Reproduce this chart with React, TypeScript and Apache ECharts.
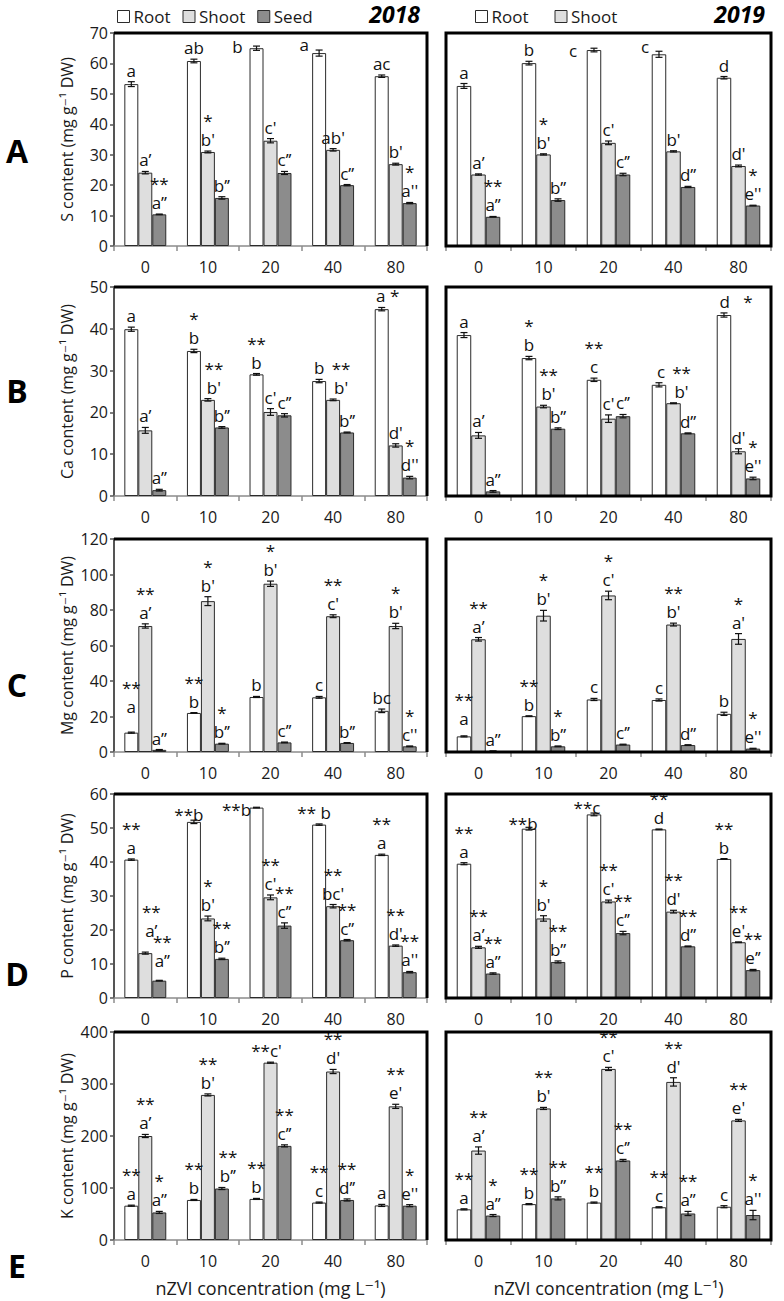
import React, { useEffect, useRef } from 'react';
import * as echarts from 'echarts';

const FONT = "'Open Sans', 'DejaVu Sans', sans-serif";
const CATEGORIES = ['0', '10', '20', '40', '80'];
const SERIES_NAMES = ['Root', 'Shoot', 'Seed'];
const Y_NAMES = ['S content (mg g⁻¹ DW)', 'Ca content (mg g⁻¹ DW)', 'Mg content (mg g⁻¹ DW)', 'P content (mg g⁻¹ DW)', 'K content (mg g⁻¹ DW)'];
const Y_MAX = [70, 50, 120, 60, 400];
const Y_STEP = [10, 10, 20, 10, 100];
const PANEL_LETTERS = ['A', 'B', 'C', 'D', 'E'];
const YEARS = ['2018', '2019'];

// ---- A: S content ----
const S18_ROOT = [53.2, 60.8, 65.0, 63.4, 55.8];
const S18_SHOOT = [24.1, 30.9, 34.6, 31.6, 26.9];
const S18_SEED = [10.4, 15.8, 24.0, 20.0, 14.1];
const S18_ERR = [[0.8, 0.6, 0.7, 1.0, 0.4], [0.4, 0.3, 0.7, 0.4, 0.3], [0.1, 0.4, 0.5, 0.2, 0.2]];
const S18_LBL = [['a', 'ab', 'b', 'a', 'ac'], ['a’', "*\nb'", "c'", "ab'", "b'"], ['**\na’’', 'b’’', 'c’’', 'c’’', "*\na''"]];
const S19_ROOT = [52.6, 60.1, 64.4, 63.0, 55.3];
const S19_SHOOT = [23.5, 30.1, 33.9, 31.1, 26.3];
const S19_SEED = [9.6, 15.1, 23.5, 19.4, 13.3];
const S19_ERR = [[0.8, 0.6, 0.6, 1.0, 0.4], [0.2, 0.2, 0.6, 0.2, 0.3], [0.1, 0.4, 0.4, 0.2, 0.1]];
const S19_LBL = [['a', 'b', 'c', 'c', 'd'], ['a’', "*\nb'", "c'", "b'", "d'"], ['**\na’’', 'b’’', 'c’’', 'd’’', "*\ne''"]];

// ---- B: Ca content ----
const CA18_ROOT = [39.9, 34.7, 29.1, 27.5, 44.7];
const CA18_SHOOT = [15.7, 23.0, 20.1, 23.0, 12.1];
const CA18_SEED = [1.4, 16.4, 19.3, 15.2, 4.4];
const CA18_ERR = [[0.5, 0.4, 0.2, 0.4, 0.4], [0.7, 0.3, 0.8, 0.2, 0.4], [0.2, 0.2, 0.4, 0.1, 0.3]];
const CA18_LBL = [['a', '*\nb', '**\nb', 'b', 'a *'], ['a’', "**\nb'", "c'", "**\nb'", "d'"], ['a’’', 'b’’', 'c’’', 'b’’', "*\nd''"]];
const CA19_ROOT = [38.5, 33.0, 27.8, 26.6, 43.3];
const CA19_SHOOT = [14.5, 21.4, 18.5, 22.2, 10.7];
const CA19_SEED = [1.1, 16.1, 19.1, 15.0, 4.2];
const CA19_ERR = [[0.6, 0.4, 0.4, 0.5, 0.5], [0.7, 0.3, 0.9, 0.1, 0.6], [0.2, 0.2, 0.4, 0.1, 0.3]];
const CA19_LBL = [['a', '*\nb', '**\nc', 'c', 'd   *'], ['a’', "**\nb'", "c'", "**\nb'", "d'"], ['a’’', 'b’’', 'c’’', 'd’’', "*\ne''"]];

// ---- C: Mg content ----
const MG18_ROOT = [10.9, 22.0, 31.0, 30.8, 23.2];
const MG18_SHOOT = [71.0, 85.0, 94.8, 76.5, 71.0];
const MG18_SEED = [1.2, 4.7, 5.4, 5.1, 3.2];
const MG18_ERR = [[0.3, 0.2, 0.3, 0.5, 1.0], [1.2, 2.5, 1.5, 0.8, 1.5], [0.2, 0.2, 0.2, 0.2, 0.2]];
const MG18_LBL = [['**\na', '**\nb', 'b', 'c', 'bc'], ['**\na’', "*\nb'", "*\nb'", "**\nc'", "*\nb'"], ['a’’', '*\nb’’', 'c’’', 'b’’', "*\nc''"]];
const MG19_ROOT = [8.8, 20.2, 29.6, 29.3, 21.5];
const MG19_SHOOT = [63.5, 76.8, 88.2, 71.8, 63.7];
const MG19_SEED = [0.5, 3.2, 4.2, 3.9, 1.9];
const MG19_ERR = [[0.3, 0.2, 0.6, 0.6, 0.9], [1.0, 3.0, 2.4, 0.8, 3.0], [0.1, 0.2, 0.2, 0.2, 0.2]];
const MG19_LBL = [['**\na', '**\nb', 'c', 'c', 'b'], ['**\na’', "*\nb'", "*\nc'", "**\nb'", "*\na'"], ['a’’', '*\nb’’', 'c’’', 'd’’', "*\ne''"]];

// ---- D: P content ----
const P18_ROOT = [40.7, 51.8, 56.0, 51.0, 42.1];
const P18_SHOOT = [13.2, 23.4, 29.6, 27.0, 15.4];
const P18_SEED = [5.1, 11.5, 21.3, 17.0, 7.6];
const P18_ERR = [[0.2, 0.5, 0.1, 0.2, 0.2], [0.3, 0.7, 0.7, 0.5, 0.2], [0.1, 0.2, 0.8, 0.2, 0.2]];
const P18_LBL = [['**\na', '**b', '**b', '** b', '**\na'], ['**\na’', "*\nb'", "**\nc'", "**\nbc'", "**\nd'"], ['**\na’’', '**\nb’’', '**\nc’’', '**\nc’’', "**\na''"]];
const P19_ROOT = [39.5, 49.8, 54.0, 49.6, 40.9];
const P19_SHOOT = [14.9, 23.4, 28.4, 25.4, 16.4];
const P19_SEED = [7.2, 10.6, 19.1, 15.2, 8.2];
const P19_ERR = [[0.3, 0.4, 0.4, 0.1, 0.1], [0.3, 0.8, 0.4, 0.4, 0.1], [0.2, 0.3, 0.5, 0.1, 0.2]];
const P19_LBL = [['**\na', '**b', '**c', '**\nd', '**\nb'], ['**\na’', "*\nb'", "**\nc'", "**\nd'", "**\ne'"], ['**\na’’', '**\nb’’', '**\nc’’', '**\nd’’', '**\ne’’']];

// ---- E: K content ----
const K18_ROOT = [66, 77, 79, 72, 66.5];
const K18_SHOOT = [200, 279, 341, 324, 257];
const K18_SEED = [53, 99, 181, 77, 66];
const K18_ERR = [[1, 1, 1, 1, 2], [3, 2, 1, 4, 4], [2, 2, 2, 2, 2]];
const K18_LBL = [['**\na', '**\nb', '**\nb', '**\nc', 'a'], ['**\na’', "**\nb'", "**c'", "**\nd'", "**\ne'"], ['*\na’’', '**\nb’’', '**\nc’’', '**\nd’’', "*\ne''"]];
const K19_ROOT = [59, 69, 72, 63, 64];
const K19_SHOOT = [172, 253, 329, 304, 230];
const K19_SEED = [47, 80, 153, 51, 48];
const K19_ERR = [[1, 1, 1, 1, 2], [7, 2, 3, 8, 2], [2, 3, 2, 4, 9]];
const K19_LBL = [['**\na', '**\nb', '**\nb', '**\nc', 'c'], ['**\na’', "**\nb'", "**\nc'", "**\nd'", "**\ne'"], ['*\na’’', '**\nb’’', '**\nc’’', '**\na’’', "*\na''"]];

// label nudges: [series, category, dx, dy] (layout only)
const SHIFTS: Record<string, number[][]> = {
  S18: [[0, 2, -19, 12], [0, 3, -15, 6]],
  S19: [[0, 2, -21, 14], [0, 3, -14, 7]],
  CA18: [[0, 4, 6, 0], [1, 3, 8, 0], [1, 1, 6, 0]],
  CA19: [[0, 4, 12, 0], [1, 3, 8, 0], [1, 1, 5, 0], [0, 3, 2, 0]],
  MG18: [[0, 0, 0, -14]],
  MG19: [[0, 0, 0, -6]],
  P18: [[0, 1, -5, 6], [0, 2, -20, 14], [0, 3, -5, 0], [1, 0, 6, -10], [2, 0, 3, -8]],
  P19: [[0, 1, -6, 8], [0, 2, -7, 6]],
  K18: [[1, 2, -4, 0], [2, 1, 6, 0]],
  K19: [],
};

const PANELS = [
  { key: 'S18', row: 0, col: 0, values: [S18_ROOT, S18_SHOOT, S18_SEED], errors: S18_ERR, letters: S18_LBL },
  { key: 'S19', row: 0, col: 1, values: [S19_ROOT, S19_SHOOT, S19_SEED], errors: S19_ERR, letters: S19_LBL },
  { key: 'CA18', row: 1, col: 0, values: [CA18_ROOT, CA18_SHOOT, CA18_SEED], errors: CA18_ERR, letters: CA18_LBL },
  { key: 'CA19', row: 1, col: 1, values: [CA19_ROOT, CA19_SHOOT, CA19_SEED], errors: CA19_ERR, letters: CA19_LBL },
  { key: 'MG18', row: 2, col: 0, values: [MG18_ROOT, MG18_SHOOT, MG18_SEED], errors: MG18_ERR, letters: MG18_LBL },
  { key: 'MG19', row: 2, col: 1, values: [MG19_ROOT, MG19_SHOOT, MG19_SEED], errors: MG19_ERR, letters: MG19_LBL },
  { key: 'P18', row: 3, col: 0, values: [P18_ROOT, P18_SHOOT, P18_SEED], errors: P18_ERR, letters: P18_LBL },
  { key: 'P19', row: 3, col: 1, values: [P19_ROOT, P19_SHOOT, P19_SEED], errors: P19_ERR, letters: P19_LBL },
  { key: 'K18', row: 4, col: 0, values: [K18_ROOT, K18_SHOOT, K18_SEED], errors: K18_ERR, letters: K18_LBL },
  { key: 'K19', row: 4, col: 1, values: [K19_ROOT, K19_SHOOT, K19_SEED], errors: K19_ERR, letters: K19_LBL },
];

// layout
const COL_LEFT = [114, 446];
const COL_RIGHT = [427, 771];
const ROW_TOP = [33, 287, 539, 794, 1032];
const ROW_BOTTOM = [246, 496, 752, 998, 1240];
const LETTER_Y = [150, 390, 684, 973, 1265];
const BAR_COLORS = ['#ffffff', '#dedede', '#8c8c8c'];
const BAR_GAP_FRAC = 0.33;

function buildOption() {
  const grid: any[] = [];
  const xAxis: any[] = [];
  const yAxis: any[] = [];
  const series: any[] = [];
  const graphic: any[] = [];

  PANELS.forEach((p, i) => {
    const L = COL_LEFT[p.col];
    const R = COL_RIGHT[p.col];
    const T = ROW_TOP[p.row];
    const B = ROW_BOTTOM[p.row];
    const isLeft = p.col === 0;
    grid.push({ left: L, top: T, width: R - L, height: B - T });
    xAxis.push({
      type: 'category',
      gridIndex: i,
      data: CATEGORIES,
      axisLine: { show: true, lineStyle: { color: '#8c8c8c', width: 1.5 } },
      axisTick: { show: true, length: 5, lineStyle: { color: '#8c8c8c', width: 1.5 } },
      axisLabel: { fontSize: 16, color: '#1a1a1a', margin: 13, fontFamily: FONT },
    });
    yAxis.push({
      type: 'value',
      gridIndex: i,
      min: 0,
      max: Y_MAX[p.row],
      interval: Y_STEP[p.row],
      splitLine: { show: false },
      axisLine: { show: isLeft, lineStyle: { color: '#555', width: 2 } },
      axisTick: { show: isLeft, length: 4, lineStyle: { color: '#555', width: 1.5 } },
      axisLabel: { show: isLeft, fontSize: 16, color: '#1a1a1a', margin: 6, fontFamily: FONT },
      name: isLeft ? Y_NAMES[p.row] : '',
      nameLocation: 'middle',
      nameGap: 39,
      nameTextStyle: { fontSize: 16, color: '#1a1a1a', fontFamily: FONT },
    });
    SERIES_NAMES.forEach((name, s) => {
      series.push({
        type: 'bar',
        name,
        xAxisIndex: i,
        yAxisIndex: i,
        data: p.values[s],
        barGap: '0%',
        barCategoryGap: '33%',
        itemStyle: { color: BAR_COLORS[s], borderColor: '#2b2b2b', borderWidth: 1 },
        z: 2,
      });
    });

    const items: number[][] = [];
    const texts: string[] = [];
    const offs: number[][] = [];
    const shifts = SHIFTS[p.key] || [];
    for (let s = 0; s < 3; s++) {
      for (let c = 0; c < CATEGORIES.length; c++) {
        items.push([c, p.values[s][c], p.errors[s][c], s]);
        texts.push(p.letters[s][c]);
        const sh = shifts.find((q) => q[0] === s && q[1] === c);
        offs.push(sh ? [sh[2], sh[3]] : [0, 0]);
      }
    }
    series.push({
      type: 'custom',
      xAxisIndex: i,
      yAxisIndex: i,
      data: items,
      clip: false,
      silent: true,
      z: 5,
      encode: { x: 0, y: 1 },
      renderItem: (params: any, api: any) => {
        const c = api.value(0);
        const v = api.value(1);
        const e = api.value(2);
        const s = api.value(3);
        const base = api.coord([c, v]);
        const cw = api.size([1, 0])[0];
        const bw = (cw * (1 - BAR_GAP_FRAC)) / 3;
        const x = base[0] + (s - 1) * bw;
        const yTop = api.coord([c, v + e])[1];
        const yBot = api.coord([c, Math.max(0, v - e)])[1];
        const off = offs[params.dataIndex];
        const ls = { stroke: '#111', lineWidth: 1.2 };
        return {
          type: 'group',
          children: [
            { type: 'line', shape: { x1: x, y1: yTop, x2: x, y2: yBot }, style: ls },
            { type: 'line', shape: { x1: x - 3.5, y1: yTop, x2: x + 3.5, y2: yTop }, style: ls },
            { type: 'line', shape: { x1: x - 3.5, y1: yBot, x2: x + 3.5, y2: yBot }, style: ls },
            {
              type: 'text',
              x: x + off[0],
              y: yTop - 2 + off[1],
              style: {
                text: texts[params.dataIndex],
                fontSize: 17,
                fontFamily: FONT,
                fill: '#111',
                align: 'center',
                verticalAlign: 'bottom',
                lineHeight: 19,
              },
            },
          ],
        };
      },
    });

    if (isLeft) {
      graphic.push({
        type: 'polyline',
        z: 20,
        shape: { points: [[L, T], [R, T], [R, B]] },
        style: { stroke: '#000', lineWidth: 3, fill: null },
      });
    } else {
      graphic.push({
        type: 'rect',
        z: 20,
        shape: { x: L, y: T, width: R - L, height: B - T },
        style: { stroke: '#000', lineWidth: 3, fill: null },
      });
    }
  });

  PANEL_LETTERS.forEach((t, r) => {
    graphic.push({
      type: 'text',
      x: 17,
      y: LETTER_Y[r],
      style: { text: t, fontSize: 32, fontWeight: 'bold', fontFamily: FONT, fill: '#000', align: 'center', verticalAlign: 'middle' },
    });
  });
  graphic.push({
    type: 'text', x: 420, y: 14,
    style: { text: YEARS[0], fontSize: 23, fontWeight: 'bold', fontStyle: 'italic', fontFamily: FONT, fill: '#000', align: 'right', verticalAlign: 'middle' },
  });
  graphic.push({
    type: 'text', x: 765, y: 14,
    style: { text: YEARS[1], fontSize: 23, fontWeight: 'bold', fontStyle: 'italic', fontFamily: FONT, fill: '#000', align: 'right', verticalAlign: 'middle' },
  });
  [0, 1].forEach((c) => {
    graphic.push({
      type: 'text',
      x: (COL_LEFT[c] + COL_RIGHT[c]) / 2,
      y: 1288,
      style: { text: 'nZVI concentration (mg L⁻¹)', fontSize: 18, fontFamily: FONT, fill: '#1a1a1a', align: 'center', verticalAlign: 'middle' },
    });
  });

  const legendText = { fontSize: 17, color: '#1a1a1a', fontFamily: FONT, padding: [0, 0, 0, -1] };
  return {
    animation: false,
    backgroundColor: '#ffffff',
    textStyle: { fontFamily: FONT },
    legend: [
      { left: 112, top: 3, data: SERIES_NAMES, itemGap: 12, itemWidth: 12, itemHeight: 12, icon: 'rect', itemStyle: { borderColor: '#2b2b2b', borderWidth: 1 }, textStyle: legendText, selectedMode: false },
      { left: 470, top: 3, data: SERIES_NAMES.slice(0, 2), itemGap: 26, itemWidth: 12, itemHeight: 12, icon: 'rect', itemStyle: { borderColor: '#2b2b2b', borderWidth: 1 }, textStyle: legendText, selectedMode: false },
    ],
    grid,
    xAxis,
    yAxis,
    series,
    graphic,
  };
}

export default function App() {
  const ref = useRef<HTMLDivElement>(null);
  useEffect(() => {
    if (!ref.current) return;
    const chart = echarts.init(ref.current, undefined, { renderer: 'svg' });
    chart.setOption(buildOption() as any);
    return () => chart.dispose();
  }, []);
  return <div ref={ref} style={{ position: 'absolute', left: 0, top: 0, width: 784, height: 1301, background: '#fff' }} />;
}
